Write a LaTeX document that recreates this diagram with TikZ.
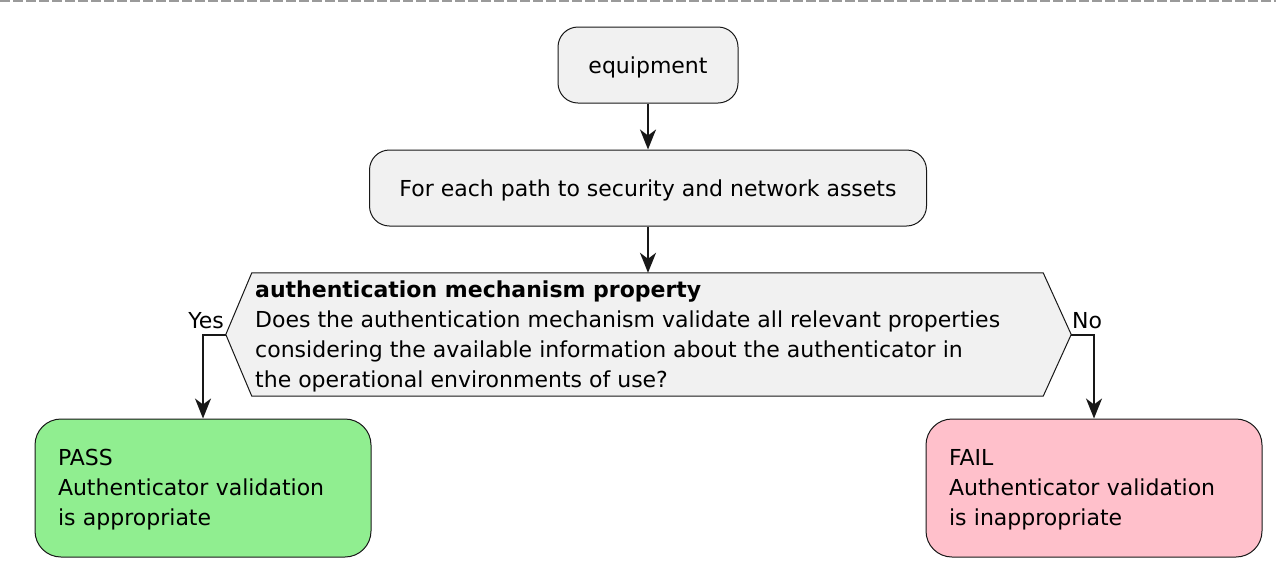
\documentclass[tikz,border=0pt]{standalone}
\usepackage{fontspec}
\setmainfont{DejaVu Sans}
\usetikzlibrary{arrows.meta,calc}
\definecolor{boxgray}{HTML}{F1F1F1}
\definecolor{passgreen}{HTML}{90EE90}
\definecolor{failpink}{HTML}{FFC0CB}
\definecolor{ink}{HTML}{181818}
\definecolor{rulegray}{HTML}{9A9A9A}

\begin{document}
\begin{tikzpicture}[x=1pt,y=-1pt,
  every node/.style={font=\fontsize{22}{30}\selectfont, text=black},
  action/.style={draw=ink, line width=1pt, fill=boxgray, rounded corners=20pt,
    minimum height=76pt, inner sep=0pt, text height=21pt, text depth=5pt},
  verdict/.style={draw=ink, line width=1pt, rounded corners=26pt,
    minimum width=336pt, minimum height=138pt, text width=290pt, align=left,
    inner xsep=23pt, inner ysep=0pt},
  qline/.style={anchor=base west, inner sep=0pt},
  flow/.style={draw=ink, line width=2pt,
    -{Stealth[length=20pt,width=16pt,inset=6pt]}},
]
\useasboundingbox (0,0) rectangle (1276,574);

% dashed page rule along the top edge
\draw[rulegray, line width=2pt, dash pattern=on 10pt off 3pt] (0,1) -- (1276,1);

% activities
\node[action, minimum width=180pt] (equip) at (648,65) {equipment};
\node[action, minimum width=557pt] (each) at (648,188)
  {For each path to security and network assets};

% decision hexagon
\node[minimum width=845pt, minimum height=123pt, inner sep=0pt] (q) at (648.5,334.5) {};
\coordinate (qtop) at (each.south |- q.north);
\draw[draw=ink, line width=1pt, fill=boxgray]
  (q.west) -- ([xshift=26pt]q.north west) -- ([xshift=-28pt]q.north east)
  -- (q.east) -- ([xshift=-28pt]q.south east) -- ([xshift=26pt]q.south west) -- cycle;
\node[qline, font=\fontsize{22}{30}\selectfont\bfseries] (q1) at (255,297)
  {authentication mechanism property};
\node[qline] (q2) at (255,327)
  {Does the authentication mechanism validate all relevant properties};
\node[qline] (q3) at (255,357)
  {considering the available information about the authenticator in};
\node[qline] (q4) at (255,387)
  {the operational environments of use?};

% outcomes
\node[verdict, fill=passgreen] (pass) at (203,488)
  {\rule{0pt}{19pt}PASS\\Authenticator validation\\is appropriate};
\node[verdict, fill=failpink] (fail) at (1094,488)
  {\rule{0pt}{19pt}FAIL\\Authenticator validation\\is inappropriate};

% connectors
\draw[flow] (equip) -- (each);
\draw[flow] (each) -- (qtop);
\draw[flow] (q.west) -| (pass);
\draw[flow] (q.east) -| (fail);

% branch labels
\node[anchor=base east, inner sep=0pt] (yes) at (224,328) {Yes};
\node[anchor=base west, inner sep=0pt] (no) at (1072,328) {No};
\end{tikzpicture}
\end{document}
